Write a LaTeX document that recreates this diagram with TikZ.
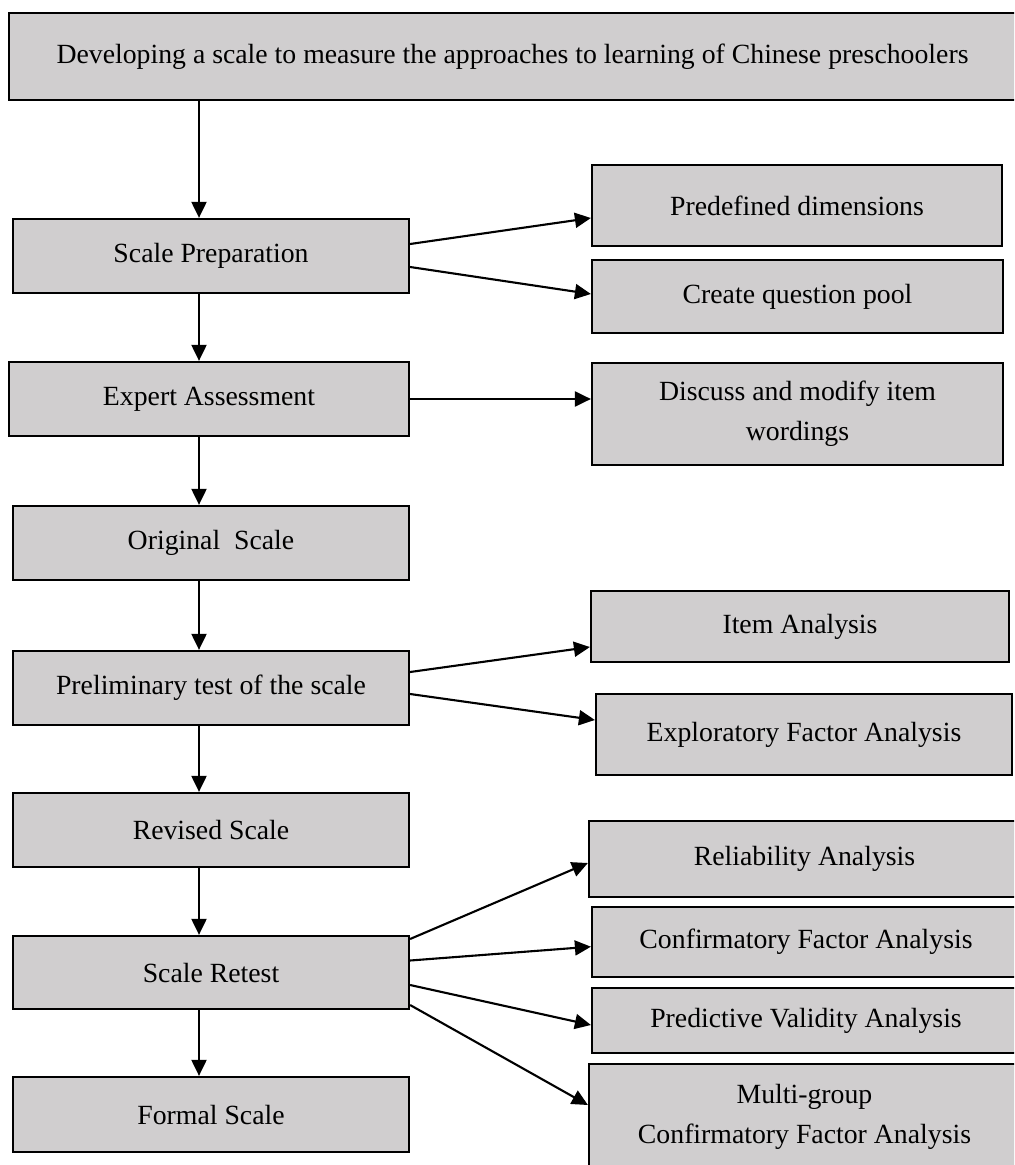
\documentclass[tikz,border=0pt]{standalone}
\usepackage{fontspec}
\setmainfont{Liberation Serif}
\usepackage{tikz}
\usetikzlibrary{arrows.meta,calc,positioning}
\definecolor{boxgray}{RGB}{208,206,207}

\begin{document}
\begin{tikzpicture} [
    x = 0.02cm, y = -0.02cm,
    box/.style = { draw, line width = 1.3pt, fill = boxgray, inner sep = 0, align = center,
        font = \fontsize{15.8}{23}\selectfont },
    stage/.style = { box, minimum width = 7.92cm, minimum height = 1.48cm },
    flow/.style = { line width = 1.2pt, -{Triangle[length = 0.32cm, width = 0.3cm]} }
    ]
    \useasboundingbox (0,0) rectangle (1014,1165);
    \clip (0,0) rectangle (1014,1165);

    % main column
    \node[box, minimum width = 20.14cm, minimum height = 1.74cm] (aim) at (512.5,56.5)
        {Developing a scale to measure the approaches to learning of Chinese preschoolers};
    \node[stage] (prep) at (211,256) {Scale Preparation};
    \node[stage, minimum width = 8cm] (expert) at (209,399) {Expert Assessment};
    \node[stage] (orig) at (211,543) {Original~~Scale};
    \node[stage] (prelim) at (211,688) {Preliminary test of the scale};
    \node[stage] (revised) at (211,830) {Revised Scale};
    \node[stage, minimum height = 1.46cm] (retest) at (211,972.5) {Scale Retest};
    \node[stage, minimum height = 1.5cm] (formal) at (211,1114.5) {Formal Scale};

    % side boxes
    \node[box, minimum width = 8.2cm, minimum height = 1.62cm] (pred) at (797,205.5) {Predefined dimensions};
    \node[box, minimum width = 8.22cm, minimum height = 1.46cm] (pool) at (797.5,296.5) {Create question pool};
    \node[box, minimum width = 8.22cm, minimum height = 2.04cm] (discuss) at (797.5,414) {Discuss and modify item\\wordings};
    \node[box, minimum width = 8.36cm, minimum height = 1.42cm] (item) at (800,626.5) {Item Analysis};
    \node[box, minimum width = 8.32cm, minimum height = 1.62cm] (explor) at (804,734.5) {Exploratory Factor Analysis};
    \node[box, minimum width = 8.62cm, minimum height = 1.52cm] (reli) at (804.5,859) {Reliability Analysis};
    \node[box, minimum width = 8.56cm, minimum height = 1.4cm] (cfa) at (806,942) {Confirmatory Factor Analysis};
    \node[box, minimum width = 8.56cm, minimum height = 1.3cm] (predict) at (806,1020.5) {Predictive Validity Analysis};
    \node[box, minimum width = 8.62cm, minimum height = 2.12cm] (multi) at (804.5,1117) {Multi-group\\Confirmatory Factor Analysis};

    % arrows down the main column
    \coordinate (spine) at (199,0);
    \foreach \a/\b in {aim/prep, prep/expert, expert/orig, orig/prelim, prelim/revised, revised/retest, retest/formal}
        \draw[flow] (\a.south -| spine) -- (\b.north -| spine);

    % arrows to the side
    \draw[flow] ($(prep.east)+(0,-12)$) -- ($(pred.west)+(0,12.5)$);
    \draw[flow] ($(prep.east)+(0,11)$) -- ($(pool.west)+(0,-2.5)$);
    \draw[flow] (expert.east) -- (expert.east -| discuss.west);
    \draw[flow] ($(prelim.east)+(0,-16)$) -- ($(item.west)+(0,20.5)$);
    \draw[flow] ($(prelim.east)+(0,6)$) -- ($(explor.west)+(0,-14.5)$);
    \draw[flow] ($(retest.east)+(0,-33.5)$) -- ($(reli.west)+(0,4)$);
    \draw[flow] ($(retest.east)+(0,-12)$) -- ($(cfa.west)+(0,4.7)$);
    \draw[flow] ($(retest.east)+(0,12.5)$) -- ($(predict.west)+(0,4.5)$);
    \draw[flow] ($(retest.east)+(0,32.5)$) -- ($(multi.west)+(0,-12)$);
\end{tikzpicture}
\end{document}
